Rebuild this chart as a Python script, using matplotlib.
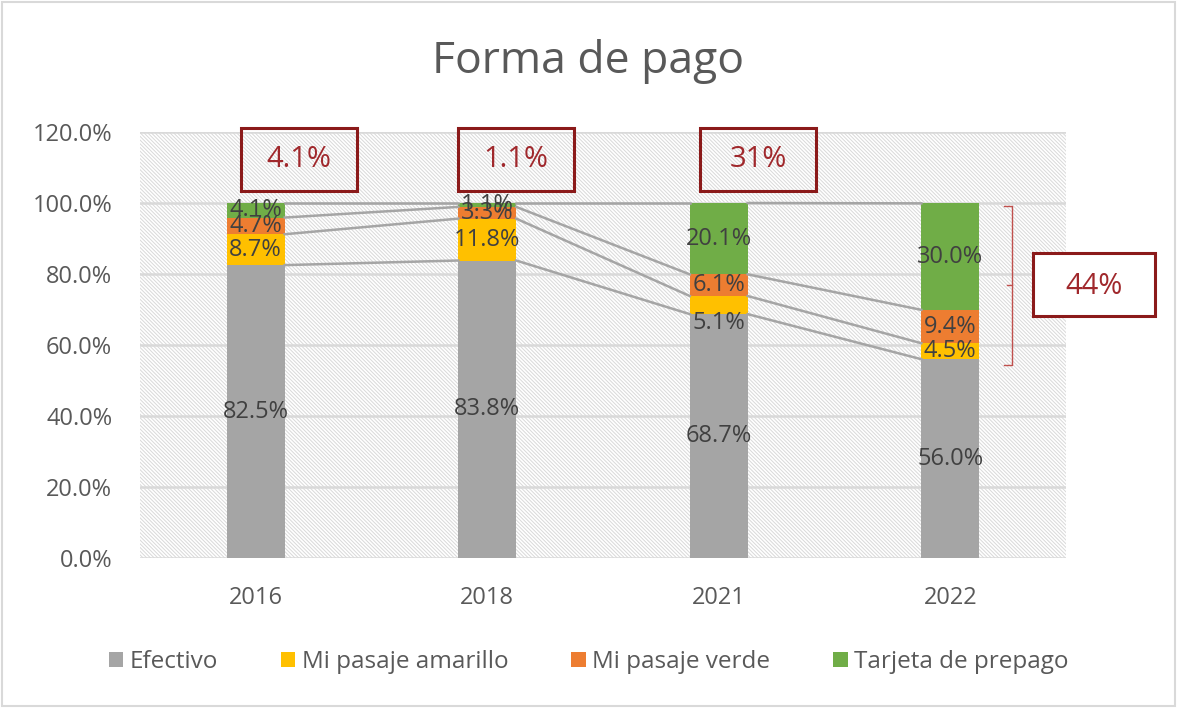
import matplotlib
matplotlib.use("Agg")
import matplotlib.pyplot as plt
import numpy as np
from matplotlib.patches import Rectangle

plt.rcParams['font.family'] = ['Open Sans', 'DejaVu Sans']
plt.rcParams['hatch.color'] = '#cfcfcf'
plt.rcParams['hatch.linewidth'] = 0.7

years = ['2016', '2018', '2021', '2022']
series_names = ['Efectivo', 'Mi pasaje amarillo', 'Mi pasaje verde', 'Tarjeta de prepago']
efectivo = [82.5, 83.8, 68.7, 56.0]
amarillo = [8.7, 11.8, 5.1, 4.5]
verde = [4.7, 3.3, 6.1, 9.4]
tarjeta = [4.1, 1.1, 20.1, 30.0]
box_labels = ['4.1%', '1.1%', '31%']
side_label = '44%'
yticks = [0, 20, 40, 60, 80, 100, 120]

colors = ['#a5a5a5', '#ffc000', '#ed7d31', '#70ad47']
data = [efectivo, amarillo, verde, tarjeta]

W, H = 1177, 708
fig = plt.figure(figsize=(W / 100, H / 100), dpi=100)
ax = fig.add_axes([140 / W, 1 - 558 / H, (1066 - 140) / W, (558 - 132) / H])

x = np.arange(len(years))
w = 0.25
ax.set_xlim(-0.5, len(years) - 0.5)
ax.set_ylim(0, 120)

# hatched background
ax.add_patch(Rectangle((0, 0), 1, 1, transform=ax.transAxes, facecolor='white',
                       edgecolor='#d9d9d9', hatch='\\' * 9, lw=0, zorder=0))
for t in yticks:
    ax.axhline(t, color='#d9d9d9', lw=1.8, zorder=1)

bottoms = np.zeros(len(years))
tops_all = []
for vals, c, name in zip(data, colors, series_names):
    vals = np.array(vals)
    ax.bar(x, vals, w, bottom=bottoms, color=c, label=name, zorder=3)
    for i, (v, b) in enumerate(zip(vals, bottoms)):
        dy = 0
        if name == 'Mi pasaje amarillo' and years[i] == '2021':
            dy = -5
        ax.text(x[i], b + v / 2 + dy, f'{v:.1f}%', ha='center', va='center',
                fontsize=17, color='#404040', zorder=5)
    bottoms = bottoms + vals
    tops_all.append(bottoms.copy())

# series lines
for tops in tops_all:
    for i in range(len(years) - 1):
        ax.plot([x[i] + w / 2, x[i + 1] - w / 2], [tops[i], tops[i + 1]],
                color='#a5a5a5', lw=1.8, zorder=4)

ax.set_xticks(x)
ax.set_xticklabels(years)
ax.set_yticks(yticks)
ax.set_yticklabels([f'{t:.1f}%' for t in yticks])
ax.tick_params(axis='y', length=0, labelsize=17, colors='#595959', pad=20)
ax.tick_params(axis='x', length=0, labelsize=17, colors='#595959', pad=20)
for s in ax.spines.values():
    s.set_visible(False)

fig.text(0.5, 1 - 62 / H, 'Forma de pago', ha='center', va='center', fontsize=32, color='#595959')

# boxes above bars (offsets in category units)
box_dx = [0.186, 0.123, 0.17]
bw = 0.5
for i, lab in enumerate(box_labels):
    cx = x[i] + box_dx[i]
    ax.text(cx, 112.2, lab, ha='center', va='center', fontsize=21, color='#a0282c', zorder=6)
    ax.add_patch(Rectangle((cx - bw / 2, 103.5), bw, 17.5, fill=False, edgecolor='#8b1a1a',
                           lw=2.2, zorder=6, clip_on=False))

# bracket on right
bc = '#c0504d'
fig.add_artist(plt.Line2D([1004 / W, 1012 / W, 1012 / W, 1004 / W],
                          [1 - 206 / H, 1 - 206 / H, 1 - 365 / H, 1 - 365 / H],
                          color=bc, lw=1))
fig.add_artist(plt.Line2D([1007 / W, 1012 / W], [1 - 285 / H, 1 - 285 / H], color=bc, lw=1))
fig.add_artist(Rectangle((1033 / W, 1 - 316 / H), (1155 - 1033) / W, (316 - 253) / H,
                         fill=True, facecolor='white', edgecolor='#8b1a1a', lw=2.2))
fig.text(1094 / W, 1 - 286 / H, side_label, ha='center', va='center', fontsize=21, color='#a0282c')

leg = fig.legend(loc='center', bbox_to_anchor=(0.5, 1 - 662 / H), ncol=4, frameon=False,
                 fontsize=17.5, handlelength=0.6, handleheight=0.6, handletextpad=0.25,
                 columnspacing=2.6, labelcolor='#595959')

fig.add_artist(Rectangle((2 / W, 2 / H), 1 - 4 / W, 1 - 4 / H, fill=False,
                         edgecolor='#d9d9d9', lw=1.5))

fig.savefig('out.png', dpi=100, facecolor='white')
